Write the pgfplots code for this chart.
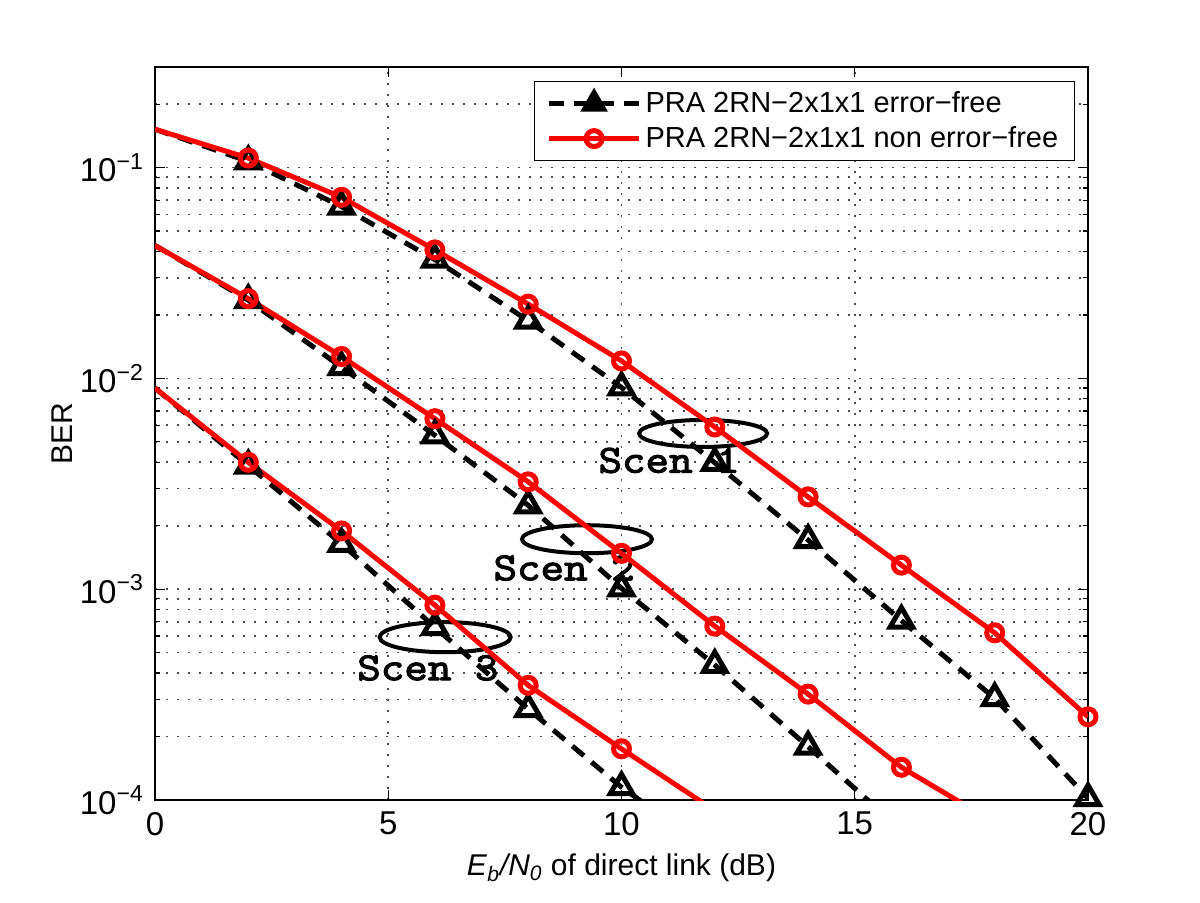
\documentclass[border=0pt]{standalone}
\usepackage{fontspec}
\setmainfont{Liberation Sans}
\newfontfamily\cour{lmmono10-regular.otf}[FakeBold=2.6, FakeStretch=1.12]
\usepackage{pgfplots}
\pgfplotsset{compat=1.18}

% scenario curves, BER vs Eb/N0
\pgfplotstableread{
x y
0 0.152
2 0.107
4 0.0653
6 0.0366
8 0.0188
10 0.00906
12 0.00398
14 0.00171
16 0.00071
18 0.000304
20 0.000102
}\scenAef
\pgfplotstableread{
x y
0 0.152
2 0.111
4 0.0723
6 0.0407
8 0.0225
10 0.0121
12 0.00588
14 0.00274
16 0.0013
18 0.000621
20 0.000248
}\scenAnef
\pgfplotstableread{
x y
0 0.0427
2 0.0235
4 0.0113
6 0.00537
8 0.0025
10 0.00101
12 0.000437
14 0.000179
16 0.000072
}\scenBef
\pgfplotstableread{
x y
0 0.0427
2 0.0239
4 0.0127
6 0.00644
8 0.00323
10 0.00148
12 0.000668
14 0.000318
16 0.000143
18 0.000078
}\scenBnef
\pgfplotstableread{
x y
0 0.0090
2 0.00386
4 0.00164
6 0.00066
8 0.00027
10 0.000115
12 0.000056
}\scenCef
\pgfplotstableread{
x y
0 0.0090
2 0.0040
4 0.00189
6 0.00084
8 0.00035
10 0.000175
12 0.000089
}\scenCnef

\begin{document}
\begin{tikzpicture}
\begin{axis}[
  at={(0,0)}, anchor=south west,
  scale only axis, width=466.5pt, height=366.5pt,
  ymode=log,
  xmin=0, xmax=20, ymin=1e-4, ymax=0.3,
  xtick={0,5,10,15,20},
  ytick={1e-4,1e-3,1e-2,1e-1},
  yticklabels={10\textsuperscript{−4},10\textsuperscript{−3},10\textsuperscript{−2},10\textsuperscript{−1}},
  minor ytick={2e-4,3e-4,4e-4,5e-4,6e-4,7e-4,8e-4,9e-4,
               2e-3,3e-3,4e-3,5e-3,6e-3,7e-3,8e-3,9e-3,
               2e-2,3e-2,4e-2,5e-2,6e-2,7e-2,8e-2,9e-2,
               2e-1,3e-1},
  /pgf/number format/assume math mode=true,
  tick label style={font=\fontsize{16.5}{18}\selectfont},
  yticklabel style={xshift=-2pt},
  xticklabel style={yshift=-2.5pt},
  label style={font=\fontsize{15}{17}\selectfont},
  tick align=inside,
  major tick length=5pt, minor tick length=2.5pt,
  every tick/.style={black, line width=0.6pt},
  axis line style={line width=0.7pt},
  xmajorgrids, ymajorgrids, yminorgrids,
  major grid style={black!70, line width=0.8pt, dash pattern=on 0.8pt off 4.7pt},
  minor grid style={black!70, line width=0.8pt, dash pattern=on 0.8pt off 4.7pt},
  xlabel={\textit{E}\textsubscript{\textit{b}}\textit{/N}\textsubscript{\textit{0}} of direct link (dB)},
  ylabel={BER},
  xlabel style={at={(axis description cs:0.5,-0.093)}, anchor=center},
  ylabel style={at={(axis description cs:-0.1,0.5)}, anchor=center, rotate=0},
  legend style={at={(0.986,0.981)}, anchor=north east, draw=black, line width=0.7pt,
                fill=white, font=\fontsize{14.5}{16}\selectfont,
                inner xsep=6pt, inner ysep=3pt, row sep=1.5pt, cells={anchor=west}},
]

% scenario ellipses and labels
\node[font=\cour\fontsize{20}{22}\selectfont] at (axis cs:11.02,0.00408) {Scen 1};
\node[font=\cour\fontsize{20}{22}\selectfont] at (axis cs:8.77,0.00126) {Scen 2};
\node[font=\cour\fontsize{20}{22}\selectfont] at (axis cs:5.85,0.000423) {Scen 3};
\draw[line width=2pt] (axis cs:11.75,0.00548) ellipse [x radius=32pt, y radius=6.75pt];
\draw[line width=2pt] (axis cs:9.26,0.001726) ellipse [x radius=32.5pt, y radius=7pt];
\draw[line width=2pt] (axis cs:6.22,0.000592) ellipse [x radius=32.75pt, y radius=7.5pt];

\addplot[black, line width=2.5pt, dash pattern=on 7.5pt off 5pt, mark=triangle, mark size=6.5pt,
  mark options={solid}, mark indices={2,...,11},
  legend image code/.code={\draw[mark indices={2}, mark=triangle*, mark size=5.5pt]
    plot coordinates {(0pt,0pt) (22.5pt,0pt) (45pt,0pt)};}] table {\scenAef};
\addplot[red, line width=2.5pt, mark=o, mark size=4pt, mark indices={2,...,11},
  legend image code/.code={\draw[mark indices={2}]
    plot coordinates {(0pt,0pt) (22.5pt,0pt) (45pt,0pt)};}] table {\scenAnef};
\legend{PRA 2RN−2x1x1 error−free, PRA 2RN−2x1x1 non error−free}

\addplot[black, line width=2.5pt, dash pattern=on 7.5pt off 5pt, mark=triangle, mark size=6.5pt,
  mark options={solid}, mark indices={2,...,8}, forget plot] table {\scenBef};
\addplot[red, line width=2.5pt, mark=o, mark size=4pt, mark indices={2,...,9}, forget plot] table {\scenBnef};
\addplot[black, line width=2.5pt, dash pattern=on 7.5pt off 5pt, mark=triangle, mark size=6.5pt,
  mark options={solid}, mark indices={2,...,6}, forget plot] table {\scenCef};
\addplot[red, line width=2.5pt, mark=o, mark size=4pt, mark indices={2,...,6}, forget plot] table {\scenCnef};
\end{axis}
\pgfresetboundingbox
\path[use as bounding box] (-77.5pt,-51.5pt) rectangle (522.5pt,400pt);
\end{tikzpicture}
\end{document}
